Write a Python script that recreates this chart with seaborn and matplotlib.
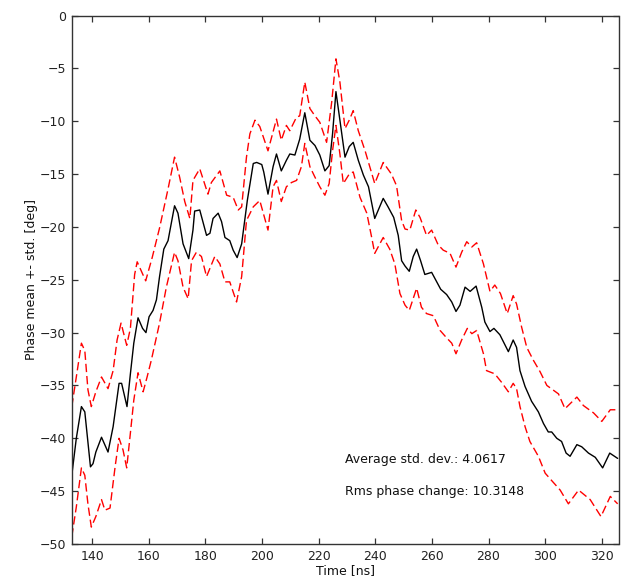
import matplotlib
matplotlib.use("Agg")
import matplotlib.pyplot as plt
import seaborn as sns
import pandas as pd

# ---------------- data ----------------
time_mean = [132.8, 134.4, 136.2, 137.4, 139.4, 140.3, 141.3, 143.3, 145.6, 147.4,
             149.5, 150.4, 152.3, 153.5, 154.7, 156.2, 157.8, 159.0, 160.1, 161.5,
             162.7, 163.8, 165.3, 166.8, 169.1, 170.3, 172.1, 174.1, 175.6, 176.2,
             178.0, 180.4, 181.6, 182.7, 184.5, 185.7, 186.9, 188.6, 189.8, 191.2,
             192.8, 194.8, 196.9, 198.1, 199.9, 200.6, 202.1, 203.9, 205.1, 206.8,
             208.6, 209.8, 211.6, 213.3, 215.1, 216.9, 218.7, 220.4, 222.2, 223.7,
             224.9, 226.1, 227.5, 229.3, 230.8, 232.2, 234.0, 235.8, 237.6, 239.8,
             242.8, 244.5, 246.5, 248.1, 249.3, 250.5, 252.0, 253.4, 254.6, 256.0,
             257.5, 259.9, 261.7, 263.1, 265.2, 267.0, 268.5, 269.9, 271.7, 273.5,
             275.6, 277.6, 278.7, 280.5, 281.9, 284.0, 287.0, 288.7, 289.9, 291.1,
             292.9, 295.2, 297.6, 299.4, 301.1, 302.3, 304.1, 305.8, 307.4, 308.8,
             311.2, 312.9, 315.3, 317.7, 320.3, 322.8, 325.6]
phase_mean = [-43.5, -40.0, -37.0, -37.5, -42.7, -42.4, -41.3, -39.9, -41.3, -38.9,
              -34.8, -34.8, -37.0, -33.9, -31.0, -28.6, -29.6, -30.0, -28.5, -27.9,
              -26.9, -24.7, -22.1, -21.3, -18.0, -18.7, -21.6, -23.0, -20.3, -18.5,
              -18.4, -20.8, -20.6, -19.2, -18.7, -19.5, -21.0, -21.3, -22.2, -22.9,
              -21.6, -17.5, -14.0, -13.9, -14.1, -14.8, -16.9, -14.3, -13.1, -14.7,
              -13.7, -13.1, -13.2, -11.7, -9.2, -11.8, -12.3, -13.2, -14.7, -14.2,
              -11.2, -7.2, -9.9, -13.4, -12.4, -12.0, -13.7, -15.1, -16.2, -19.2,
              -17.3, -18.1, -19.1, -20.8, -23.2, -23.7, -24.2, -22.8, -22.1, -23.2,
              -24.5, -24.3, -25.2, -25.9, -26.4, -27.1, -28.0, -27.4, -25.7, -26.1,
              -25.6, -27.6, -29.0, -29.9, -29.6, -30.2, -31.8, -30.7, -31.4, -33.6,
              -35.1, -36.5, -37.5, -38.6, -39.4, -39.4, -40.0, -40.3, -41.4, -41.7,
              -40.6, -40.8, -41.4, -41.8, -42.8, -41.4, -41.9]

time_upper = [132.8, 134.4, 136.2, 137.4, 138.5, 139.7, 141.3, 143.3, 145.6, 147.4,
              148.8, 150.2, 152.2, 153.5, 155.0, 155.9, 158.9, 161.2, 163.8, 166.8,
              169.1, 170.9, 172.7, 174.5, 175.6, 178.0, 180.9, 182.1, 185.1, 187.5,
              189.8, 191.6, 192.8, 194.5, 195.7, 197.5, 199.2, 202.1, 205.1, 206.8,
              208.6, 209.8, 212.2, 213.3, 215.1, 216.9, 218.7, 220.4, 222.8, 224.6,
              226.1, 227.5, 229.3, 230.8, 232.2, 234.0, 236.4, 239.8, 242.8, 245.7,
              247.5, 249.3, 250.5, 252.2, 254.3, 255.8, 258.1, 259.9, 262.2, 264.0,
              266.4, 268.5, 270.5, 272.3, 274.1, 275.8, 278.2, 280.5, 282.2, 284.2,
              286.6, 288.7, 289.9, 291.7, 293.5, 295.8, 298.2, 300.6, 304.7, 307.0,
              311.2, 313.5, 317.1, 320.0, 323.0, 325.6]
phase_upper = [-37.0, -34.2, -31.0, -31.7, -35.4, -37.0, -35.6, -34.2, -35.3, -33.6,
               -30.7, -29.1, -31.2, -29.6, -24.5, -23.3, -25.1, -22.9, -20.1, -16.4,
               -13.4, -15.3, -17.6, -19.2, -15.6, -14.5, -16.9, -15.8, -14.7, -17.0,
               -17.2, -18.4, -18.1, -13.4, -11.2, -9.9, -10.5, -12.8, -9.8, -11.8,
               -10.4, -10.9, -9.6, -9.5, -6.3, -8.8, -9.5, -10.1, -12.0, -8.2,
               -4.1, -6.3, -10.7, -9.9, -9.0, -10.9, -12.8, -15.9, -13.9, -15.0,
               -16.1, -19.4, -20.2, -20.3, -18.4, -19.1, -20.8, -20.3, -21.7, -22.2,
               -22.5, -23.8, -22.4, -21.4, -21.9, -21.5, -23.5, -26.1, -25.5, -26.3,
               -28.2, -26.5, -27.3, -29.5, -31.4, -32.6, -33.7, -35.0, -35.8, -37.2,
               -36.1, -36.9, -37.6, -38.4, -37.3, -37.3]

time_lower = [132.8, 134.4, 136.2, 137.4, 138.5, 139.7, 141.3, 143.3, 144.5, 146.3,
              148.1, 149.5, 150.9, 152.2, 153.5, 154.7, 156.2, 158.0, 159.4, 160.9,
              163.8, 166.2, 169.1, 170.3, 172.1, 173.9, 175.1, 176.8, 178.6, 180.4,
              183.3, 185.1, 186.9, 188.6, 191.0, 192.8, 194.5, 196.9, 199.2, 202.1,
              203.9, 205.1, 206.8, 208.6, 210.4, 212.2, 213.9, 215.1, 216.9, 218.7,
              220.4, 222.2, 223.7, 224.9, 226.1, 227.5, 228.7, 230.8, 232.2, 234.6,
              237.0, 238.8, 239.8, 242.8, 245.1, 246.9, 248.7, 250.5, 252.0, 254.6,
              256.3, 258.1, 260.5, 262.9, 265.2, 267.0, 268.5, 270.5, 272.5, 274.1,
              275.8, 278.2, 279.3, 282.2, 284.6, 287.0, 288.7, 289.9, 291.1, 292.9,
              294.6, 297.6, 300.0, 302.3, 305.3, 308.2, 311.8, 315.9, 319.7, 323.0,
              325.6]
phase_lower = [-49.3, -46.5, -42.8, -43.5, -46.2, -48.4, -47.4, -45.8, -46.8, -46.6,
               -42.7, -40.0, -41.1, -42.8, -39.5, -36.4, -33.8, -35.6, -34.2, -32.6,
               -29.1, -25.7, -22.4, -23.2, -25.7, -26.8, -23.2, -22.4, -22.8, -24.7,
               -22.8, -23.5, -25.2, -25.2, -27.1, -24.7, -19.4, -18.1, -17.5, -20.3,
               -16.2, -15.6, -17.6, -16.2, -15.8, -15.6, -14.3, -12.1, -14.3, -15.3,
               -16.2, -17.0, -15.9, -12.8, -10.4, -13.1, -15.9, -15.0, -14.8, -17.2,
               -18.7, -21.1, -22.5, -21.0, -22.1, -23.5, -26.3, -27.4, -27.9, -25.8,
               -27.6, -28.2, -28.4, -29.8, -30.5, -31.0, -32.0, -30.7, -29.6, -30.1,
               -29.8, -32.0, -33.6, -33.9, -34.7, -35.6, -34.8, -35.3, -37.0, -38.9,
               -40.3, -41.7, -43.3, -44.0, -44.9, -46.2, -44.9, -45.8, -47.4, -45.5,
               -46.2]

x_ticks = [140, 160, 180, 200, 220, 240, 260, 280, 300, 320]
y_ticks = [-50, -45, -40, -35, -30, -25, -20, -15, -10, -5, 0]
avg_std = "4.0617"
rms_change = "10.3148"

# ---------------- style ----------------
sns.set_style("white")
plt.rcParams["font.family"] = ["DejaVu Sans"]
plt.rcParams["xtick.direction"] = "in"
plt.rcParams["ytick.direction"] = "in"
plt.rcParams["xtick.major.size"] = 4
plt.rcParams["ytick.major.size"] = 4

fig = plt.figure(figsize=(6.25, 5.77), dpi=100)
ax = fig.add_axes([0.1144, 0.0572, 0.8752, 0.9159])

df_mean = pd.DataFrame({"t": time_mean, "v": phase_mean})
df_up = pd.DataFrame({"t": time_upper, "v": phase_upper})
df_lo = pd.DataFrame({"t": time_lower, "v": phase_lower})

dash = (0, (6.0, 2.8))
sns.lineplot(data=df_up, x="t", y="v", ax=ax, color="#ff0000", lw=1.0,
             linestyle=dash, estimator=None, sort=False)
sns.lineplot(data=df_lo, x="t", y="v", ax=ax, color="#ff0000", lw=1.0,
             linestyle=dash, estimator=None, sort=False)
sns.lineplot(data=df_mean, x="t", y="v", ax=ax, color="#000000", lw=1.0,
             estimator=None, sort=False)

ax.set_xlim(132.7, 325.9)
ax.set_ylim(-50, 0)
ax.set_xticks(x_ticks)
ax.set_yticks(y_ticks)
ax.tick_params(axis="both", which="major", direction="in", length=4, width=0.9,
               bottom=True, left=True, top=True, right=True,
               labelsize=9, labelcolor="#222222", color="#333333", pad=4)
for s in ax.spines.values():
    s.set_visible(True)
    s.set_color("#333333")
    s.set_linewidth(1.0)

ax.set_xlabel("Time [ns]", fontsize=9, labelpad=1, color="#111111")
ax.set_ylabel("Phase mean +- std. [deg]", fontsize=9, labelpad=1, color="#111111")

ax.text(229.3, -42.0, f"Average std. dev.: {avg_std}", fontsize=9,
        ha="left", va="center", color="#111111")
ax.text(229.3, -45.0, f"Rms phase change: {rms_change}", fontsize=9,
        ha="left", va="center", color="#111111")

fig.savefig("out.png", dpi=100)
